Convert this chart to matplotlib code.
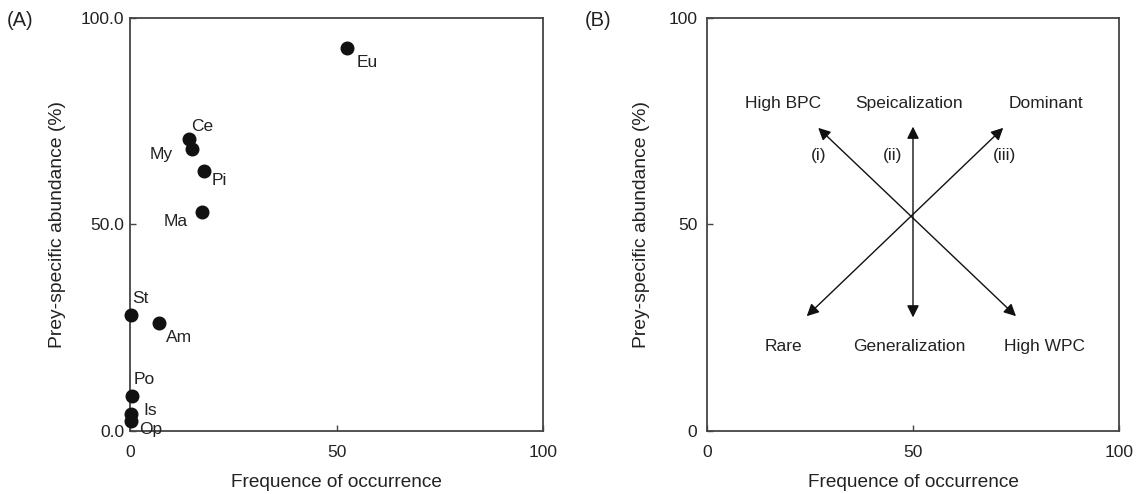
import matplotlib.pyplot as plt

plt.rcParams['font.family'] = ['Liberation Sans', 'DejaVu Sans']
plt.rcParams['font.size'] = 12.5

# panel A: prey items
prey = ['Eu', 'Ce', 'My', 'Pi', 'Ma', 'St', 'Am', 'Po', 'Is', 'Op']
freq = [52.5, 14.4, 15.0, 18.0, 17.4, 0.3, 7.0, 0.6, 0.3, 0.3]
abund = [92.7, 70.6, 68.4, 62.9, 53.1, 28.1, 26.1, 8.5, 4.0, 2.4]

# label offsets in points (dx, dy, ha)
offsets = [(7, -10, 'left'), (1, 9, 'left'), (-14, -4, 'right'),
           (5, -7, 'left'), (-10, -7, 'right'), (1, 12, 'left'),
           (5, -10, 'left'), (1, 12, 'left'), (9, 3, 'left'),
           (6, -6, 'left')]

# panel B: conceptual diagram
arrow_ends = [((27.0, 73.4), (75.0, 27.8)),
              ((50, 73.7), (50, 27.5)),
              ((71.9, 73.4), (24.2, 27.8))]
concept_labels = ['High BPC', 'Speicalization', 'Dominant',
                  'Rare', 'Generalization', 'High WPC']
concept_x = [18.5, 49.1, 82.2, 18.5, 49.1, 82.0]
concept_y = [79.2, 79.2, 79.2, 20.4, 20.4, 20.4]
roman = ['(i)', '(ii)', '(iii)']
roman_x = [27.2, 45.1, 72.1]
roman_y = 66.6

txt = '#222222'
spine = '#444444'

fig = plt.figure(figsize=(11.38, 4.94), dpi=100)
axA = fig.add_axes([130 / 1138, 63 / 494, 413 / 1138, 413 / 494])
axB = fig.add_axes([707 / 1138, 63 / 494, 412 / 1138, 413 / 494])

for ax in (axA, axB):
    ax.set_xlim(0, 100)
    ax.set_ylim(0, 100)
    ax.set_xticks([0, 50, 100])
    ax.set_yticks([0, 50, 100])
    ax.tick_params(direction='in', length=4, width=1, color=spine,
                   labelcolor=txt)
    for s in ax.spines.values():
        s.set_color(spine)
        s.set_linewidth(1.3)
    ax.set_xlabel('Frequence of occurrence', color=txt, labelpad=10,
                  fontsize=13.7)

axA.tick_params(axis='x', pad=10)
axA.tick_params(axis='y', pad=4)
axA.set_yticklabels(['0.0', '50.0', '100.0'])
axA.set_ylabel('Prey-specific abundance (%)', color=txt, labelpad=11,
               fontsize=13.9)

axA.scatter(freq, abund, s=82, color='#111111', zorder=3, clip_on=False)
for name, x, y, (dx, dy, ha) in zip(prey, freq, abund, offsets):
    axA.annotate(name, (x, y), xytext=(dx, dy), textcoords='offset points',
                 ha=ha, va='center', color=txt)

axB.tick_params(axis='x', pad=10)
axB.tick_params(axis='y', pad=7)
axB.set_ylabel('Prey-specific abundance (%)', color=txt, labelpad=13,
               fontsize=13.9)

for p0, p1 in arrow_ends:
    axB.annotate('', xy=p1, xytext=p0,
                 arrowprops=dict(arrowstyle='<|-|>', color='#111111',
                                 lw=1.0, mutation_scale=18,
                                 shrinkA=0, shrinkB=0))
for lab, x, y in zip(concept_labels, concept_x, concept_y):
    axB.text(x, y, lab, ha='center', va='center', color=txt)
for lab, x in zip(roman, roman_x):
    axB.text(x, roman_y, lab, ha='center', va='center', color=txt)

fig.text(7 / 1138, 1 - 21 / 494, '(A)', ha='left', va='center', color=txt,
         fontsize=14.5)
fig.text(585 / 1138, 1 - 21 / 494, '(B)', ha='left', va='center', color=txt,
         fontsize=14.5)

fig.savefig('out.png', dpi=100)
